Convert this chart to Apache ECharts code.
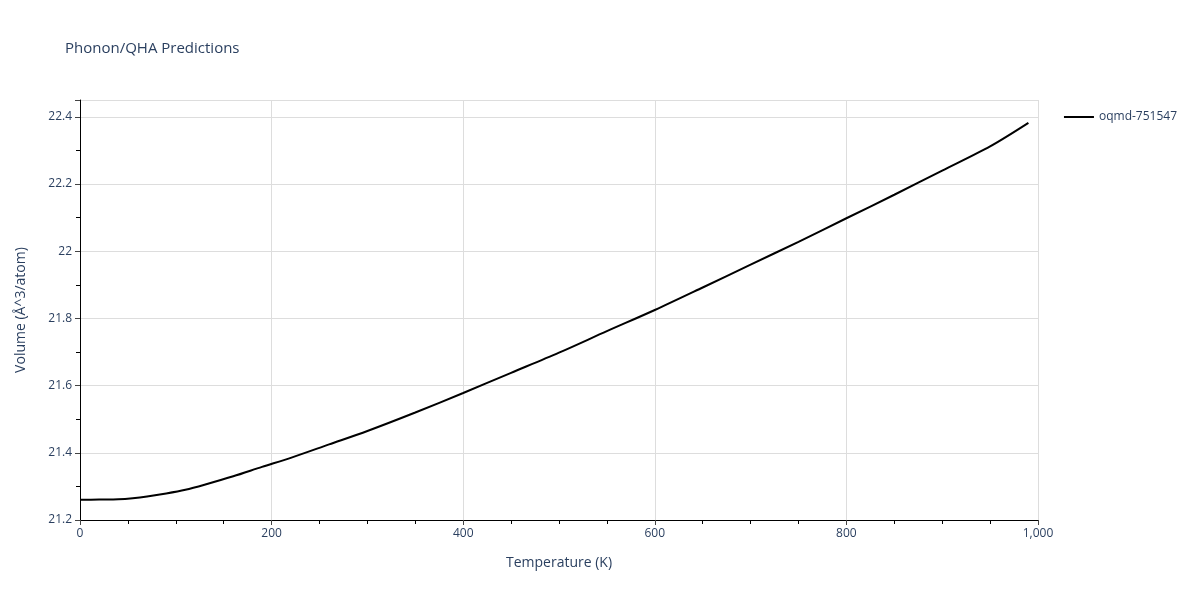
<!DOCTYPE html>
<html><head><meta charset="utf-8">
<script src="https://cdn.jsdelivr.net/npm/echarts@6/dist/echarts.min.js"></script>
</head><body style="margin:0">
<div id="c" style="width:1200px;height:600px"></div>
<script>
const temps = [0, 20, 40, 55, 70, 90, 110, 130, 160, 190, 220, 260, 300, 350, 400, 450, 500, 550, 600, 650, 700, 750, 800, 850, 900, 950, 990];
const volumes = [21.26, 21.261, 21.262, 21.265, 21.27, 21.279, 21.29, 21.305, 21.33, 21.358, 21.385, 21.425, 21.465, 21.52, 21.578, 21.638, 21.698, 21.762, 21.825, 21.892, 21.96, 22.028, 22.098, 22.168, 22.24, 22.312, 22.382];
const seriesName = 'oqmd-751547';
const chart = echarts.init(document.getElementById('c'));
const txt = '#2a3f5f';
chart.setOption({
  animation: false,
  title: { text: 'Phonon/QHA Predictions', left: 60, top: 36, textStyle: { fontSize: 15, fontWeight: 'normal', color: txt, fontFamily: 'Open Sans' } },
  legend: { right: 18, top: 106, itemWidth: 30, itemHeight: 2, icon: 'rect', textStyle: { color: txt, fontSize: 12, fontFamily: 'Open Sans' }, data: [seriesName] },
  grid: { left: 80, right: 162, top: 100, bottom: 80 },
  xAxis: { type: 'value', min: 0, max: 1000, interval: 200, name: 'Temperature (K)', nameLocation: 'middle', nameGap: 36,
    nameTextStyle: { color: txt, fontSize: 14, fontFamily: 'Open Sans' },
    axisLine: { lineStyle: { color: '#000' } }, axisTick: { show: true, length: 5, lineStyle: { color: '#444' } },
    minorTick: { show: true, splitNumber: 4, length: 4 },
    axisLabel: { color: txt, fontSize: 12, fontFamily: 'Open Sans' },
    splitLine: { lineStyle: { color: '#ddd' } } },
  yAxis: { type: 'value', min: 21.2, max: 22.45, interval: 0.2, name: 'Volume (Å^3/atom)', nameLocation: 'middle', nameGap: 52,
    nameTextStyle: { color: txt, fontSize: 14, fontFamily: 'Open Sans' },
    axisLine: { show: true, lineStyle: { color: '#000' } }, axisTick: { show: true, length: 5, lineStyle: { color: '#444' } },
    minorTick: { show: true, splitNumber: 2, length: 4 },
    axisLabel: { color: txt, fontSize: 12, fontFamily: 'Open Sans', showMaxLabel: false, formatter: v => +v.toFixed(1) + '' },
    splitLine: { lineStyle: { color: '#ddd' } } },
  series: [{ name: seriesName, type: 'line', showSymbol: false, smooth: 0.3, data: temps.map((t, i) => [t, volumes[i]]), lineStyle: { color: '#000', width: 2 }, itemStyle: { color: '#000' } }]
});
</script></body></html>
